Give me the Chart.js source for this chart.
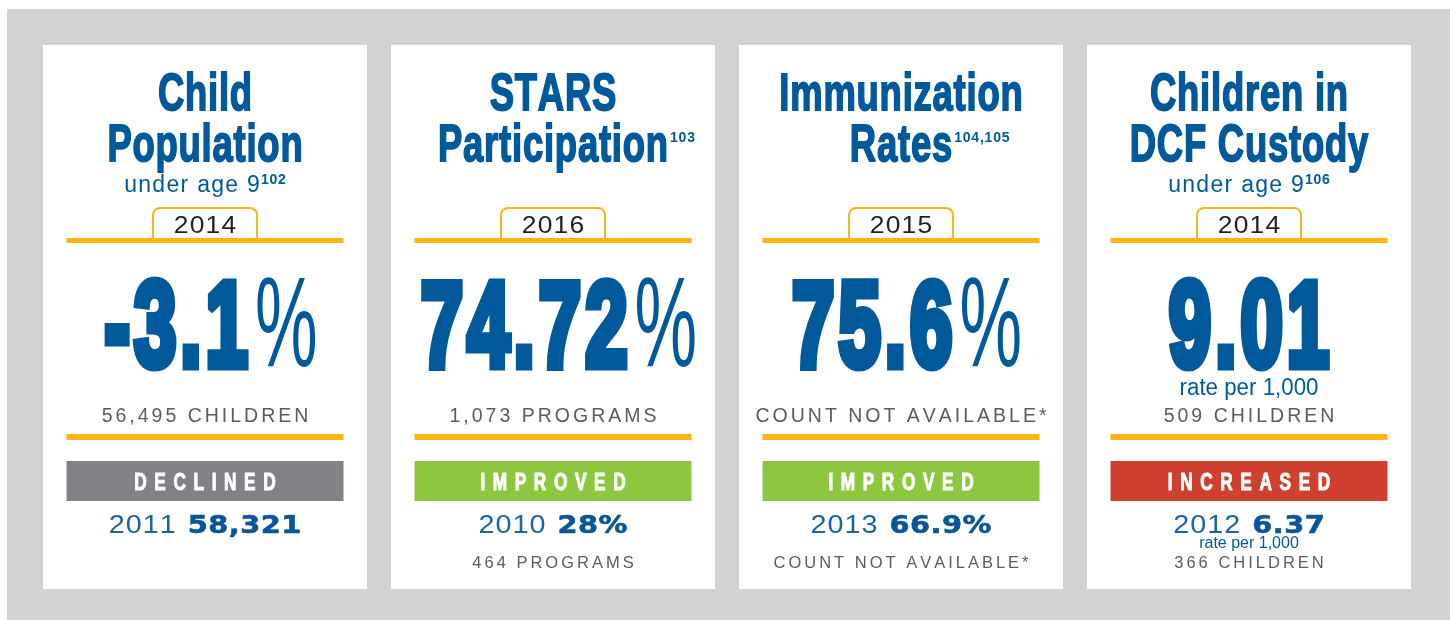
<!DOCTYPE html>
<html>
<head>
<meta charset="utf-8">
<script src="https://cdn.jsdelivr.net/npm/chart.js@4"></script>
<style>
  html, body { margin: 0; padding: 0; background: #fff; }
  canvas { display: block; }
</style>
</head>
<body>
<canvas id="board" width="1450" height="620"></canvas>
<script>
// ---- data, one entry per card ----
const titleLine1 = ['Child', 'STARS', 'Immunization', 'Children in'];
const titleLine2 = ['Population', 'Participation', 'Rates', 'DCF Custody'];
const subtitles = ['under age 9', '', '', 'under age 9'];
const notes = ['102', '103', '104,105', '106'];
const years = ['2014', '2016', '2015', '2014'];
const values = ['-3.1', '74.72', '75.6', '9.01'];
const units = ['%', '%', '%', ''];
const valueNotes = ['', '', '', 'rate per 1,000'];
const counts = ['56,495 CHILDREN', '1,073 PROGRAMS', 'COUNT NOT AVAILABLE*', '509 CHILDREN'];
const statusLabels = ['DECLINED', 'IMPROVED', 'IMPROVED', 'INCREASED'];
const statusColors = ['#808285', '#8dc63f', '#8dc63f', '#d0402f'];
const statusLevel = [1, 1, 1, 1];
const baseYears = ['2011', '2010', '2013', '2012'];
const baseValues = ['58,321', '28%', '66.9%', '6.37'];
const baseNotes = ['', '', '', 'rate per 1,000'];
const baseCounts = ['', '464 PROGRAMS', 'COUNT NOT AVAILABLE*', '366 CHILDREN'];

// ---- styles ----
const BLUE = '#00599b';
const GREY_TXT = '#5b5c5e';
const YELLOW = '#fbb516';

const T_TITLE = { font: '700 52px "Liberation Sans"', sx: 0.7, ls: 0.8, stroke: 1.8, color: BLUE };
const T_SUP = { font: '700 14px "Liberation Sans"', ls: 0.8, color: BLUE };
const T_SUB = { font: '400 23px "Liberation Sans"', ls: 1.3, color: BLUE };
const T_YEAR = { font: '400 23px "Liberation Sans"', sx: 1.15, ls: 1.2, color: '#231f20' };
const T_NUM = { font: '700 121px "Liberation Sans"', sx: 0.63, ls: 4, stroke: 9, color: BLUE };
const T_PCT = { font: '400 128px "Liberation Sans"', sx: 0.55, color: BLUE };
const T_RATE = { font: '400 23px "Liberation Sans"', sx: 0.97, color: BLUE };
const T_COUNT = { font: '400 19.5px "Liberation Sans"', ls: 3, color: GREY_TXT };
const T_STATUS = { font: '700 23px "Liberation Sans"', sx: 0.75, ls: 7.6, stroke: 1, color: '#fff' };
const T_BYEAR = { font: '400 25px "Liberation Sans"', sx: 1.15, ls: 1, color: '#1d63a8' };
const T_BVAL = { font: '700 24px "DejaVu Sans"', sx: 1.2, ls: 0.5, stroke: 0.6, color: '#0a5499' };
const T_BRATE = { font: '400 16px "Liberation Sans"', color: BLUE };
const T_BCOUNT = { font: '400 16.5px "Liberation Sans"', ls: 3, color: GREY_TXT };

function runWidth(ctx, r) {
  ctx.font = r.font;
  let w = 0;
  for (const ch of r.text) w += ctx.measureText(ch).width * (r.sx || 1);
  return w + (r.ls || 0) * (r.text.length - 1);
}

function drawRun(ctx, r, x, y) {
  ctx.font = r.font;
  ctx.fillStyle = r.color;
  ctx.strokeStyle = r.color;
  ctx.textAlign = 'left';
  ctx.textBaseline = 'alphabetic';
  const sx = r.sx || 1;
  for (const ch of r.text) {
    const w = ctx.measureText(ch).width * sx;
    ctx.save();
    ctx.translate(x, y + (r.dy || 0));
    ctx.scale(sx, 1);
    if (r.stroke) {
      ctx.lineWidth = r.stroke;
      ctx.lineJoin = 'miter';
      ctx.miterLimit = 2;
      ctx.strokeText(ch, 0, 0);
    }
    ctx.fillText(ch, 0, 0);
    ctx.restore();
    x += w + (r.ls || 0);
  }
}

// runs laid out left to right, centred on cx (or centred on the first run only)
function textLine(ctx, runs, cx, y, centerFirst, dx) {
  runs = runs.filter(r => r.text);
  if (!runs.length) return;
  const widths = runs.map(r => runWidth(ctx, r));
  let total = 0;
  runs.forEach((r, i) => { total += widths[i] + (i ? (r.gap || 0) : 0); });
  let x = (centerFirst ? cx - widths[0] / 2 : cx - total / 2) + (dx || 0);
  runs.forEach((r, i) => {
    if (i) x += r.gap || 0;
    drawRun(ctx, r, x, y);
    x += widths[i];
  });
}

const boardPlugin = {
  id: 'board',
  beforeDraw(chart) {
    const ctx = chart.ctx;
    const xs = chart.scales.x;
    ctx.save();
    ctx.fillStyle = '#fff';
    ctx.fillRect(0, 0, chart.width, chart.height);
    ctx.fillStyle = '#d1d2d4';
    ctx.fillRect(7, 9, chart.width - 7, chart.height - 9);

    for (let i = 0; i < statusLabels.length; i++) {
      const cx = xs.getPixelForValue(i);
      // card
      ctx.fillStyle = '#fff';
      ctx.fillRect(cx - 162, 45, 324, 544);

      // title
      textLine(ctx, [Object.assign({ text: titleLine1[i] }, T_TITLE)], cx, 110);
      if (subtitles[i]) {
        textLine(ctx, [Object.assign({ text: titleLine2[i] }, T_TITLE)], cx, 161);
        textLine(ctx, [
          Object.assign({ text: subtitles[i] }, T_SUB),
          Object.assign({ text: notes[i], dy: -8.5, gap: 1 }, T_SUP)
        ], cx, 192);
      } else {
        textLine(ctx, [
          Object.assign({ text: titleLine2[i] }, T_TITLE),
          Object.assign({ text: notes[i], dy: -19, gap: 2 }, T_SUP)
        ], cx, 161, true);
      }

      // year tab
      const tl = cx - 52, tr = cx + 52, tt = 208, tb = 238, rad = 7;
      ctx.beginPath();
      ctx.moveTo(tl, tb);
      ctx.lineTo(tl, tt + rad);
      ctx.arcTo(tl, tt, tl + rad, tt, rad);
      ctx.lineTo(tr - rad, tt);
      ctx.arcTo(tr, tt, tr, tt + rad, rad);
      ctx.lineTo(tr, tb);
      ctx.lineWidth = 2;
      ctx.strokeStyle = YELLOW;
      ctx.stroke();
      textLine(ctx, [Object.assign({ text: years[i] }, T_YEAR)], cx, 233);

      // yellow rules
      ctx.fillStyle = YELLOW;
      ctx.fillRect(cx - 138.5, 238, 277, 5);
      ctx.fillRect(cx - 138.5, 434, 277, 6);

      // headline value
      textLine(ctx, [
        Object.assign({ text: values[i] }, T_NUM),
        Object.assign({ text: units[i], gap: 7 }, T_PCT)
      ], cx, 366, false, units[i] ? 6 : 0);
      textLine(ctx, [Object.assign({ text: valueNotes[i] }, T_RATE)], cx, 395);
      textLine(ctx, [Object.assign({ text: counts[i] }, T_COUNT)], cx, 422);

      // comparison year
      textLine(ctx, [
        Object.assign({ text: baseYears[i] }, T_BYEAR),
        Object.assign({ text: baseValues[i], gap: 12 }, T_BVAL)
      ], cx, 533);
      textLine(ctx, [Object.assign({ text: baseNotes[i] }, T_BRATE)], cx, 548);
      textLine(ctx, [Object.assign({ text: baseCounts[i] }, T_BCOUNT)], cx, 568);
    }
    ctx.restore();
  },
  afterDatasetsDraw(chart) {
    const ctx = chart.ctx;
    const meta = chart.getDatasetMeta(0);
    ctx.save();
    meta.data.forEach((bar, i) => {
      const midY = (bar.y + bar.base) / 2;
      textLine(ctx, [Object.assign({ text: statusLabels[i] }, T_STATUS)], bar.x, midY + 8.5);
    });
    ctx.restore();
  }
};

new Chart(document.getElementById('board'), {
  type: 'bar',
  data: {
    labels: statusLabels,
    datasets: [{
      data: statusLevel,
      backgroundColor: statusColors,
      borderWidth: 0,
      barPercentage: 277 / 348,
      categoryPercentage: 1
    }]
  },
  options: {
    responsive: false,
    devicePixelRatio: 1,
    animation: false,
    events: [],
    layout: { padding: { left: 31, right: 27, top: 461, bottom: 119 } },
    plugins: { legend: { display: false }, tooltip: { enabled: false } },
    scales: {
      x: { display: false },
      y: { display: false, min: 0, max: 1 }
    }
  },
  plugins: [boardPlugin]
});
</script>
</body>
</html>
